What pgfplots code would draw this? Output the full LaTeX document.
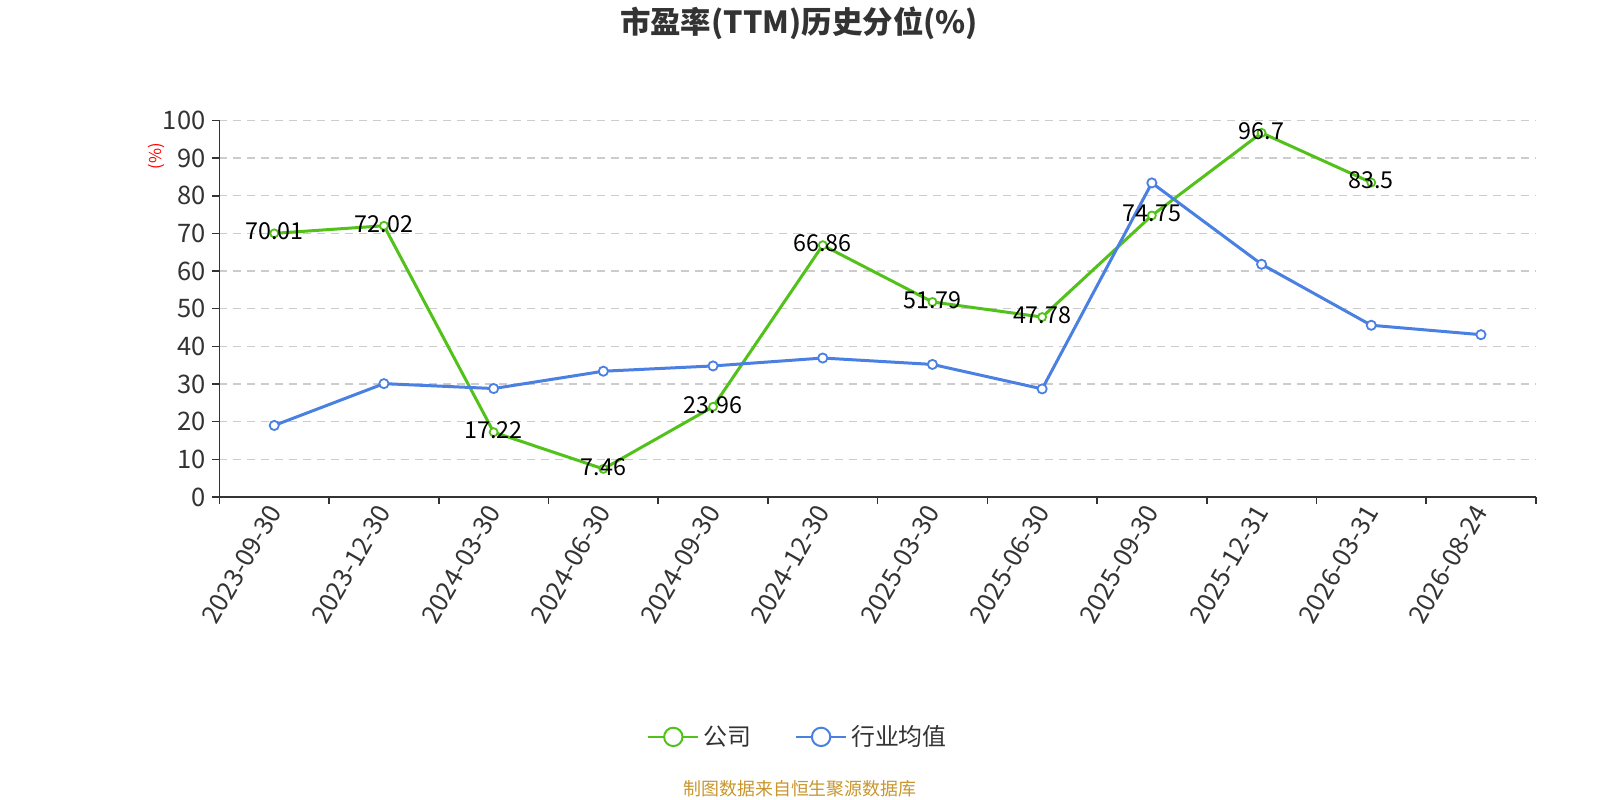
\documentclass[border=0pt]{standalone}
\usepackage{fontspec}
\setmainfont{Noto Sans CJK SC}
\usepackage{pgfplots}
\pgfplotsset{compat=1.18}
\definecolor{cgreen}{RGB}{82,194,26}
\definecolor{cblue}{RGB}{74,128,226}
\definecolor{ctext}{RGB}{51,51,51}
\definecolor{cgrid}{RGB}{204,204,204}
\definecolor{cfoot}{RGB}{200,150,45}
\begin{document}
\begin{tikzpicture}
\begin{axis}[
  at={(109.7bp,151.5bp)}, anchor=south west,
  scale only axis, width=658.2bp, height=188.3bp,
  xmin=-0.5, xmax=11.5, ymin=0, ymax=100,
  axis x line*=bottom, axis y line*=left,
  axis line style={ctext, line width=0.8bp},
  clip=false,
  /pgf/number format/assume math mode=true,
  xtick={0,...,11},
  xticklabels={2023-09-30,2023-12-30,2024-03-30,2024-06-30,2024-09-30,2024-12-30,2025-03-30,2025-06-30,2025-09-30,2025-12-31,2026-03-31,2026-08-24},
  minor xtick={-0.5,0.5,...,11.5},
  major x tick style={draw=none},
  minor x tick style={ctext, line width=0.8bp},
  ytick={0,10,...,100},
  y tick style={ctext, line width=0.8bp},
  tick align=outside,
  major tick length=3.5bp, minor tick length=3.5bp,
  ymajorgrids,
  grid style={dashed, cgrid, line width=0.7bp, dash pattern=on 4bp off 3bp},
  tick label style={font=\fontsize{12.8}{14}\selectfont, text=ctext},
  x tick label style={rotate=60, anchor=east, xshift=2bp, yshift=-1bp},
  legend style={at={(0.4403,-0.637)}, anchor=center, draw=none, fill=none,
    legend columns=2, font=\fontsize{12}{14}\selectfont, text=ctext,
    /tikz/every even column/.append style={column sep=20bp}},
  legend cell align=left,
  legend image code/.code={
    \draw[line width=1bp] (0bp,0bp) -- (25bp,0bp);
    \draw[fill=white, line width=1bp] (12.5bp,0bp) circle (4.6bp);
  },
]
\addplot[cgreen, line width=1.5bp, mark=*, mark size=2bp,
  mark options={fill=white, line width=0.9bp},
  nodes near coords,
  every node near coord/.append style={anchor=center, yshift=1bp, text=black, font=\fontsize{11.7}{13}\selectfont}]
  coordinates {(0,70.01) (1,72.02) (2,17.22) (3,7.46) (4,23.96) (5,66.86) (6,51.79) (7,47.78) (8,74.75) (9,96.7) (10,83.5)};
\addlegendentry{公司}
\addplot[cblue, line width=1.5bp, mark=*, mark size=2.3bp,
  mark options={fill=white, line width=0.9bp}]
  coordinates {(0,19.0) (1,30.1) (2,28.8) (3,33.4) (4,34.8) (5,36.9) (6,35.2) (7,28.7) (8,83.4) (9,61.8) (10,45.6) (11,43.1)};
\addlegendentry{行业均值}
\end{axis}
\node[rotate=90, text=red, font=\fontsize{8.2}{10}\selectfont] at (78bp,322bp) {(\%)};
\node[font=\fontsize{15.3}{18}\selectfont\bfseries, text=ctext] at (399.5bp,388.3bp) {市盈率(TTM)历史分位(\%)};
\node[font=\fontsize{9}{10}\selectfont, text=cfoot] at (400bp,5.5bp) {制图数据来自恒生聚源数据库};
\pgfresetboundingbox
\useasboundingbox (0,0) rectangle (800bp,400bp);
\end{tikzpicture}
\end{document}
